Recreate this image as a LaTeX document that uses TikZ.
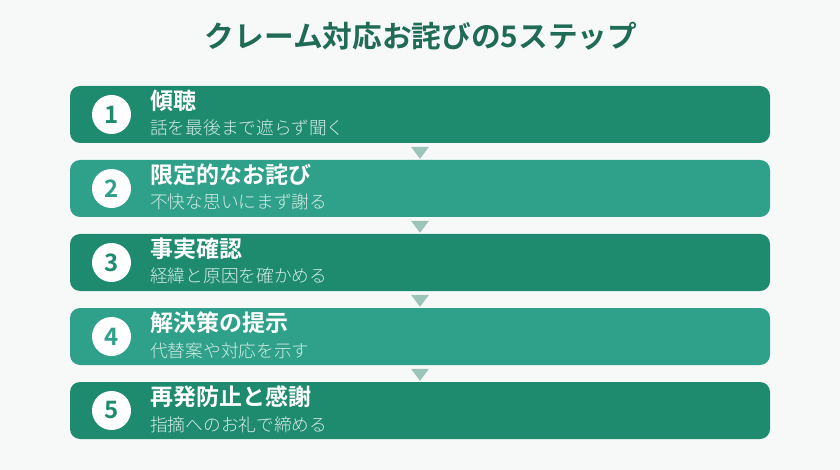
\documentclass[tikz,border=0pt]{standalone}
\usepackage{fontspec}
\setmainfont{Noto Sans CJK JP}[BoldFont={Noto Sans CJK JP Bold}]
\newfontfamily\lightjp{Noto Sans CJK JP Light}
\definecolor{bgc}{HTML}{F7F9F9}
\definecolor{darkg}{HTML}{1E8A6E}
\definecolor{lightg}{HTML}{2FA08A}
\definecolor{titlec}{HTML}{1F6B55}
\definecolor{tric}{HTML}{9DC4B8}
\definecolor{subc}{HTML}{D2ECE5}
\tikzset{
  x=1pt,y=-1pt,
  stepbox/.style={rounded corners=10pt,minimum width=700pt,minimum height=57pt,inner sep=0pt,draw=none},
  numcirc/.style={circle,fill=white,minimum size=39pt,inner sep=0pt,font=\bfseries\fontsize{24}{24}\selectfont},
  headtext/.style={anchor=base west,text=white,font=\bfseries\fontsize{23}{23}\selectfont,inner sep=0pt},
  subtext/.style={anchor=base west,text=subc,font=\lightjp\fontsize{17.7}{17.7}\selectfont,inner sep=0pt},
  tri/.style={fill=tric,draw=none}
}
\begin{document}
\begin{tikzpicture}
\fill[bgc] (0,0) rectangle (840,470);
\useasboundingbox (0,0) rectangle (840,470);
\node[text=titlec,font=\bfseries\fontsize{29.7}{29.7}\selectfont,inner sep=0pt] (title) at (421,36) {クレーム対応お詫びの5ステップ};
\foreach \i/\col/\h/\s in {
  1/darkg/傾聴/話を最後まで遮らず聞く,
  2/lightg/限定的なお詫び/不快な思いにまず謝る,
  3/darkg/事実確認/経緯と原因を確かめる,
  4/lightg/解決策の提示/代替案や対応を示す,
  5/darkg/再発防止と感謝/指摘へのお礼で締める}{
  \pgfmathsetmacro{\cy}{86+74*(\i-1)+28.5}
  \node[stepbox,fill=\col] (box\i) at (420,\cy) {};
  \node[numcirc,text=\col] (num\i) at (111.5,\cy) {\i};
  \node[headtext] (head\i) at (150,\cy-5) {\h};
  \node[subtext] (sub\i) at (150,\cy+20.5) {\s};
}
\foreach \j in {2,3,4,5}{
  \fill[tri] ([xshift=-9pt,yshift=13pt]box\j.north) -- ([xshift=9pt,yshift=13pt]box\j.north) -- ([yshift=1pt]box\j.north) -- cycle;
}
\end{tikzpicture}
\end{document}
